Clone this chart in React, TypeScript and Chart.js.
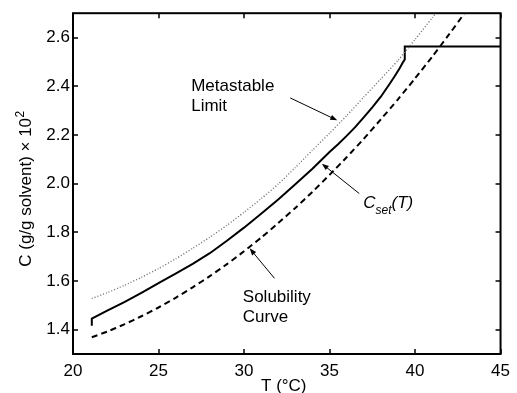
import { useEffect, useRef } from 'react';
import { Chart, registerables } from 'chart.js';

Chart.register(...registerables);

const FONT = "'Liberation Sans', Arial, Helvetica, sans-serif";

// Solubility curve (dashed)
const solubilityT = [21.1, 22, 23, 24, 25, 26, 27, 28, 29, 30, 31, 32, 33, 34, 35, 36, 37, 38, 39, 40, 41, 42, 43];
const solubilityC = [1.369, 1.392, 1.422, 1.455, 1.491, 1.531, 1.574, 1.62, 1.669, 1.722, 1.778, 1.838, 1.9, 1.966, 2.036, 2.108, 2.184, 2.264, 2.346, 2.432, 2.521, 2.614, 2.71];

// Metastable limit (dotted)
const metastableT = [21.1, 22, 23, 24, 25, 26, 27, 28, 29, 30, 31, 32, 33, 34, 35, 36, 37, 38, 39, 40, 41, 42];
const metastableC = [1.528, 1.552, 1.582, 1.615, 1.651, 1.691, 1.734, 1.78, 1.829, 1.882, 1.938, 1.998, 2.066, 2.137, 2.207, 2.279, 2.355, 2.43, 2.506, 2.592, 2.681, 2.774];

// Set-point trajectory C_set(T) (solid)
const setpointT = [21.1, 21.1, 22, 23, 24, 25, 26, 27, 28, 29, 30, 31, 32, 33, 34, 35, 35.5, 36, 36.5, 37, 37.5, 38, 38.5, 38.8, 39.1, 39.3, 39.4, 39.4, 45];
const setpointC = [1.416, 1.445, 1.478, 1.513, 1.551, 1.591, 1.63, 1.67, 1.714, 1.765, 1.819, 1.876, 1.935, 1.997, 2.061, 2.13, 2.162, 2.196, 2.232, 2.272, 2.313, 2.357, 2.408, 2.44, 2.474, 2.499, 2.51, 2.563, 2.563];

// Axis ticks
const xTicks = [20, 25, 30, 35, 40, 45];
const yTicks = [1.4, 1.6, 1.8, 2.0, 2.2, 2.4, 2.6];

// Annotations: arrows [tailT, tailC, tipT, tipC]
const arrows = [
  [32.7, 2.352, 35.45, 2.26],
  [36.74, 1.959, 34.55, 2.082],
  [31.78, 1.611, 30.33, 1.734],
];
// Text labels: [T, C (baseline of first line)]
const metastableLabel = ['Metastable', 'Limit'];
const metastableLabelPos = [26.91, 2.381];
const solubilityLabel = ['Solubility', 'Curve'];
const solubilityLabelPos = [29.93, 1.513];
const setpointLabelPos = [36.97, 1.898];

const xTitle = 'T (°C)';
const yTitle = 'C (g/g solvent) × 10';
const yTitleSup = '2';

const framePlugin = {
  id: 'frameAndNotes',
  afterDraw(chart: any) {
    const { ctx, chartArea: a, scales } = chart;
    const x = scales.x;
    const y = scales.y;
    ctx.save();
    ctx.strokeStyle = '#000';
    ctx.fillStyle = '#000';

    // inward ticks on all four sides
    ctx.lineWidth = 1.5;
    const tl = 5;
    ctx.beginPath();
    for (const t of xTicks) {
      const px = Math.round(x.getPixelForValue(t));
      ctx.moveTo(px, a.bottom);
      ctx.lineTo(px, a.bottom - tl);
      ctx.moveTo(px, a.top);
      ctx.lineTo(px, a.top + tl);
    }
    for (const v of yTicks) {
      const py = Math.round(y.getPixelForValue(v));
      ctx.moveTo(a.left, py);
      ctx.lineTo(a.left + tl, py);
      ctx.moveTo(a.right, py);
      ctx.lineTo(a.right - tl, py);
    }
    ctx.stroke();

    // frame
    ctx.lineWidth = 2;
    ctx.strokeRect(a.left, a.top, a.right - a.left, a.bottom - a.top);

    // arrows
    ctx.lineWidth = 1;
    for (const [t0, c0, t1, c1] of arrows) {
      const x0 = x.getPixelForValue(t0);
      const y0 = y.getPixelForValue(c0);
      const x1 = x.getPixelForValue(t1);
      const y1 = y.getPixelForValue(c1);
      const ang = Math.atan2(y1 - y0, x1 - x0);
      const hl = 7;
      const hw = 2.6;
      ctx.beginPath();
      ctx.moveTo(x0, y0);
      ctx.lineTo(x1 - Math.cos(ang) * hl * 0.8, y1 - Math.sin(ang) * hl * 0.8);
      ctx.stroke();
      ctx.beginPath();
      ctx.moveTo(x1, y1);
      ctx.lineTo(x1 - Math.cos(ang) * hl - Math.sin(ang) * hw, y1 - Math.sin(ang) * hl + Math.cos(ang) * hw);
      ctx.lineTo(x1 - Math.cos(ang) * hl + Math.sin(ang) * hw, y1 - Math.sin(ang) * hl - Math.cos(ang) * hw);
      ctx.closePath();
      ctx.fill();
    }

    // text labels
    ctx.textBaseline = 'alphabetic';
    ctx.textAlign = 'left';
    ctx.font = `17px ${FONT}`;
    const drawLines = (lines: string[], pos: number[]) => {
      const px = x.getPixelForValue(pos[0]);
      const py = y.getPixelForValue(pos[1]);
      lines.forEach((s, i) => ctx.fillText(s, px, py + i * 20));
    };
    drawLines(metastableLabel, metastableLabelPos);
    drawLines(solubilityLabel, solubilityLabelPos);

    // C_set(T)
    {
      const px = x.getPixelForValue(setpointLabelPos[0]);
      const py = y.getPixelForValue(setpointLabelPos[1]);
      ctx.font = `italic 17px ${FONT}`;
      ctx.fillText('C', px, py);
      let cx = px + ctx.measureText('C').width;
      ctx.font = `italic 12px ${FONT}`;
      ctx.fillText('set', cx, py + 6);
      cx += ctx.measureText('set').width;
      ctx.font = `italic 17px ${FONT}`;
      ctx.fillText('(T)', cx, py);
    }

    // axis titles
    ctx.font = `17px ${FONT}`;
    ctx.textAlign = 'center';
    ctx.fillText(xTitle, (a.left + a.right) / 2 - 3, 391);

    ctx.save();
    ctx.translate(31, 189);
    ctx.rotate(-Math.PI / 2);
    ctx.font = `17px ${FONT}`;
    const w1 = ctx.measureText(yTitle).width;
    ctx.font = `12px ${FONT}`;
    const w2 = ctx.measureText(yTitleSup).width;
    const start = -(w1 + w2) / 2;
    ctx.textAlign = 'left';
    ctx.font = `17px ${FONT}`;
    ctx.fillText(yTitle, start, 0);
    ctx.font = `12px ${FONT}`;
    ctx.fillText(yTitleSup, start + w1 + 0.5, -7);
    ctx.restore();

    ctx.restore();
  },
};

const toPoints = (xs: number[], ys: number[]) => xs.map((t, i) => ({ x: t, y: ys[i] }));

export default function App() {
  const ref = useRef<HTMLCanvasElement>(null);
  useEffect(() => {
    const tickFont = { family: FONT, size: 17 };
    const chart = new Chart(ref.current!, {
      type: 'line',
      data: {
        datasets: [
          {
            label: 'Metastable Limit',
            data: toPoints(metastableT, metastableC),
            borderColor: '#6e6e6e',
            borderWidth: 1.4,
            borderDash: [1, 2],
            pointRadius: 0,
            tension: 0.2,
            fill: false,
          },
          {
            label: 'Solubility Curve',
            data: toPoints(solubilityT, solubilityC),
            borderColor: '#000',
            borderWidth: 2,
            borderDash: [6, 4],
            pointRadius: 0,
            tension: 0.2,
            fill: false,
          },
          {
            label: 'Cset(T)',
            data: toPoints(setpointT, setpointC),
            borderColor: '#000',
            borderWidth: 2,
            pointRadius: 0,
            tension: 0,
            fill: false,
          },
        ],
      } as any,
      options: {
        responsive: false,
        animation: false,
        layout: { padding: { top: 12, right: 11, left: 0, bottom: 0 } },
        plugins: { legend: { display: false }, tooltip: { enabled: false } },
        scales: {
          x: {
            type: 'linear',
            min: 20,
            max: 45,
            afterBuildTicks: (s: any) => {
              s.ticks = xTicks.map((v) => ({ value: v }));
            },
            ticks: { font: tickFont, color: '#000', padding: 7, maxRotation: 0, autoSkip: false },
            grid: { display: false, drawTicks: false },
            border: { display: false },
            afterFit: (s: any) => {
              s.height = 39;
            },
          },
          y: {
            type: 'linear',
            min: 1.3,
            max: 2.7,
            afterBuildTicks: (s: any) => {
              s.ticks = yTicks.map((v) => ({ value: v }));
            },
            ticks: {
              font: tickFont,
              color: '#000',
              padding: 3,
              autoSkip: false,
              callback: (v: any) => Number(v).toFixed(1),
            },
            grid: { display: false, drawTicks: false },
            border: { display: false },
            afterFit: (s: any) => {
              s.width = 73;
            },
          },
        },
      } as any,
      plugins: [framePlugin],
    });
    return () => chart.destroy();
  }, []);
  return (
    <div style={{ position: 'absolute', left: 0, top: 0, width: 517, height: 393, background: '#fff' }}>
      <canvas ref={ref} width={517} height={393} style={{ display: 'block' }} />
    </div>
  );
}
